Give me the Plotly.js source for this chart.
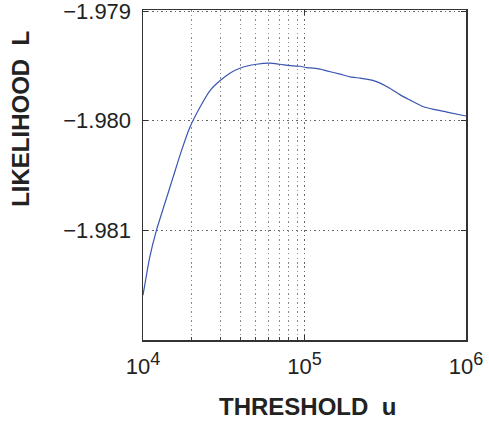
<!DOCTYPE html>
<html>
<head>
<meta charset="utf-8">
<script src="https://cdn.plot.ly/plotly-3.0.1.min.js"></script>
<style>html,body{margin:0;padding:0;background:#fff;}#chart{width:489px;height:424px;}</style>
</head>
<body>
<div id="chart"></div>
<script>
// Threshold u (x) and likelihood L (y)
const thresholdU = [10000, 11010, 12110, 13630, 15360, 17310, 19490, 22480, 25930, 29920, 34500, 39800, 50510, 61090, 70470, 85200, 93770, 103200, 113400, 124800, 137300, 166100, 191600, 221000, 261200, 294000, 339200, 391200, 451300, 545800, 629500, 762300, 1000000];
const likelihoodL = [-1.981591, -1.981243, -1.981000, -1.980757, -1.980515, -1.980273, -1.980061, -1.979879, -1.979727, -1.979636, -1.979566, -1.979521, -1.979485, -1.979475, -1.979485, -1.979500, -1.979503, -1.979515, -1.979521, -1.979530, -1.979545, -1.979575, -1.979600, -1.979612, -1.979630, -1.979657, -1.979706, -1.979764, -1.979812, -1.979873, -1.979897, -1.979921, -1.979957];
const xTickVals = [1e4, 1e5, 1e6];
const xTickExp = ['4', '5', '6'];
const yTickVals = [-1.979, -1.980, -1.981];
const yTickText = ['\u22121.979', '\u22121.980', '\u22121.981'];
const minorGridVals = [2e4, 3e4, 4e4, 5e4, 6e4, 7e4, 8e4, 9e4];
const xTitle = '<b>THRESHOLD  u</b>';
const yTitle = '<b>LIKELIHOOD  L</b>';

const font = 'Liberation Sans, Arial, Helvetica, sans-serif';
const txt = '#222';
const xTickText = xTickExp.map(e => '10<sup><span style="font-size:18px">' + e + '</span></sup>');

const traces = [{
  x: thresholdU, y: likelihoodL, type: 'scatter', mode: 'lines',
  line: {color: '#3a55b0', width: 1.2, shape: 'spline', smoothing: 0.5},
  xaxis: 'x', yaxis: 'y', hoverinfo: 'skip'
}, {
  x: [1e4], y: [-1.9815], xaxis: 'x2', yaxis: 'y', mode: 'markers',
  marker: {opacity: 0}, hoverinfo: 'skip'
}];

const layout = {
  width: 489, height: 424,
  margin: {l: 143, r: 23, t: 10, b: 84},
  paper_bgcolor: '#fff', plot_bgcolor: '#fff',
  showlegend: false,
  font: {family: font, color: txt},
  xaxis: {
    type: 'log', range: [4, 6], tickvals: xTickVals, ticktext: xTickText,
    tickfont: {size: 22, family: font, color: txt},
    ticks: 'inside', ticklen: 5, tickcolor: '#333', mirror: 'ticks',
    ticklabelstandoff: 6,
    showline: true, linecolor: '#333', linewidth: 1.5,
    showgrid: true, gridcolor: '#666', griddash: '1.5px,3px', gridwidth: 1,
    zeroline: false
  },
  xaxis2: {
    type: 'log', range: [4, 6], overlaying: 'x', tickvals: minorGridVals,
    showticklabels: false, ticks: 'inside', ticklen: 3, tickcolor: '#444',
    showgrid: true, gridcolor: '#8a8a8a', griddash: '1.5px,3px', gridwidth: 1,
    zeroline: false, showline: false
  },
  yaxis: {
    range: [-1.982, -1.97899], tickvals: yTickVals, ticktext: yTickText,
    tickfont: {size: 22, family: font, color: txt},
    ticks: 'inside', ticklen: 5, tickcolor: '#333', mirror: 'ticks',
    ticklabelstandoff: 6, ticklabeloverflow: 'allow',
    showline: true, linecolor: '#333', linewidth: 1.5,
    showgrid: true, gridcolor: '#666', griddash: '1.5px,3px', gridwidth: 1,
    zeroline: false
  },
  annotations: [
    {text: xTitle, xref: 'paper', yref: 'paper', x: 0.509, y: -0.2,
     xanchor: 'center', yanchor: 'middle', showarrow: false,
     font: {size: 24, family: font, color: txt}},
    {text: yTitle, xref: 'paper', yref: 'paper', x: -0.378, y: 0.67,
     xanchor: 'center', yanchor: 'middle', showarrow: false, textangle: -90,
     font: {size: 24, family: font, color: txt}}
  ]
};

Plotly.newPlot('chart', traces, layout, {displayModeBar: false, staticPlot: true});
</script>
</body>
</html>
